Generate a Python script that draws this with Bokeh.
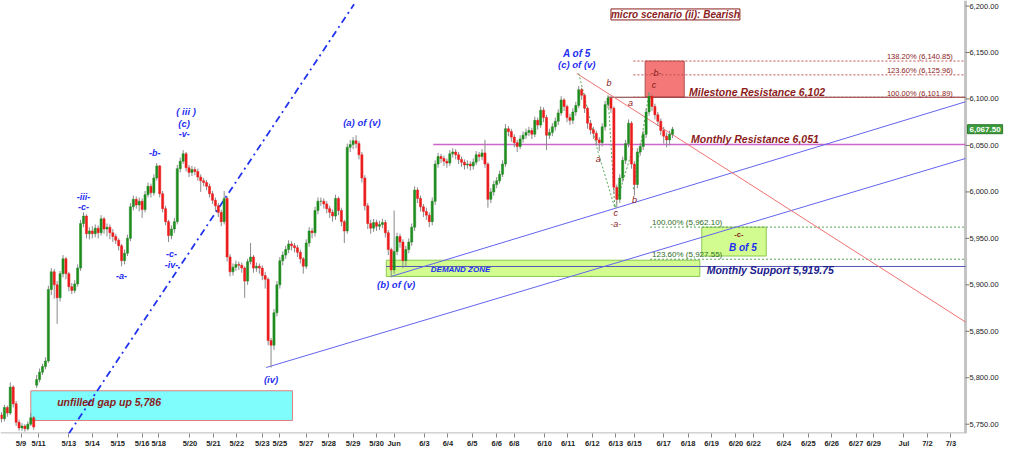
from bokeh.plotting import figure
from bokeh.models import Range1d, FixedTicker, Label, ColumnDataSource
from bokeh.core.properties import value
from bokeh.embed import file_html
from bokeh.resources import INLINE

# ---------------- data ----------------
X0 = 1
STEP = 3
opens = [5760, 5756, 5768, 5762, 5790, 5772, 5752, 5746, 5748, 5745, 5750, 5757, 5792, 5798, 5806, 5812,
         5818, 5895, 5914, 5900, 5886, 5912, 5928, 5912, 5898, 5894, 5901, 5918, 5966, 5974, 5955, 5958,
         5955, 5961, 5956, 5971, 5960, 5962, 5956, 5952, 5948, 5942, 5926, 5934, 5950, 5984, 5992, 5986,
         5990, 5981, 5997, 6006, 5999, 6015, 6028, 5998, 5982, 5968, 5953, 5960, 5968, 6025, 6033, 6041,
         6026, 6021, 6024, 6022, 6016, 6012, 6010, 6006, 5998, 5991, 5985, 5978, 5968, 5993, 5930, 5914,
         5919, 5922, 5921, 5918, 5904, 5925, 5930, 5918, 5920, 5918, 5910, 5906, 5840, 5835, 5870, 5900,
         5926, 5932, 5938, 5944, 5942, 5940, 5935, 5928, 5920, 5945, 5958, 5956, 5980, 5990, 5990, 5987,
         5982, 5978, 5974, 5993, 5980, 5968, 5958, 6048, 6051, 6055, 6052, 6040, 6015, 5985, 5966, 5961,
         5967, 5963, 5965, 5967, 5956, 5938, 5916, 5936, 5952, 5946, 5926, 5938, 5946, 5962, 6002, 5993,
         5984, 5979, 5975, 5968, 5990, 6030, 6038, 6036, 6033, 6031, 6041, 6043, 6040, 6035, 6032, 6029,
         6030, 6028, 6032, 6040, 6038, 6042, 6030, 5992, 6000, 6008, 6012, 6019, 6030, 6068, 6065, 6059,
         6053, 6049, 6057, 6061, 6064, 6066, 6062, 6077, 6072, 6088, 6080, 6061, 6064, 6070, 6076, 6085,
         6099, 6092, 6080, 6077, 6086, 6093, 6110, 6104, 6090, 6074, 6067, 6063, 6056, 6053, 6070, 6094,
         6101, 6090, 6005, 5992, 6015, 6034, 6052, 6074, 6030, 6008, 6043, 6049, 6062, 6086, 6103, 6092,
         6083, 6076, 6066, 6060, 6056, 6062]
closes = [5756, 5768, 5762, 5790, 5772, 5752, 5746, 5748, 5745, 5750, 5757, 5747, 5798, 5806, 5812, 5818,
          5895, 5914, 5900, 5886, 5912, 5928, 5912, 5898, 5894, 5901, 5918, 5966, 5974, 5955, 5958, 5955,
          5961, 5956, 5971, 5960, 5962, 5956, 5952, 5948, 5942, 5926, 5934, 5950, 5984, 5992, 5986, 5990,
          5981, 5997, 6006, 5999, 6015, 6028, 5998, 5982, 5968, 5953, 5960, 5968, 6025, 6033, 6041, 6026,
          6021, 6024, 6022, 6016, 6012, 6010, 6006, 5998, 5991, 5985, 5978, 5968, 5993, 5930, 5914, 5919,
          5922, 5921, 5918, 5904, 5925, 5930, 5918, 5920, 5918, 5910, 5906, 5840, 5835, 5870, 5900, 5926,
          5932, 5938, 5944, 5942, 5940, 5935, 5928, 5920, 5945, 5958, 5956, 5980, 5990, 5990, 5987, 5982,
          5978, 5974, 5993, 5980, 5968, 5958, 6048, 6051, 6055, 6052, 6040, 6015, 5985, 5966, 5961, 5967,
          5963, 5965, 5967, 5956, 5938, 5916, 5936, 5952, 5946, 5926, 5938, 5946, 5962, 6002, 5993, 5984,
          5979, 5975, 5968, 5990, 6030, 6038, 6036, 6033, 6031, 6041, 6043, 6040, 6035, 6032, 6029, 6030,
          6028, 6032, 6040, 6038, 6042, 6030, 5992, 6000, 6008, 6012, 6019, 6030, 6068, 6065, 6059, 6053,
          6049, 6057, 6061, 6064, 6066, 6062, 6077, 6072, 6088, 6080, 6061, 6064, 6070, 6076, 6085, 6099,
          6092, 6080, 6077, 6086, 6093, 6110, 6104, 6090, 6074, 6067, 6063, 6056, 6053, 6070, 6094, 6101,
          6090, 6005, 5992, 6015, 6034, 6052, 6074, 6030, 6008, 6043, 6049, 6062, 6086, 6103, 6092, 6083,
          6076, 6066, 6060, 6056, 6062, 6067.5]
highs = [5763, 5771, 5770, 5795, 5792, 5775, 5755, 5751, 5750, 5753, 5762, 5759, 5803, 5810, 5815, 5822,
         5899, 5918, 5917, 5904, 5915, 5932, 5930, 5914, 5902, 5905, 5922, 5970, 5978, 5976, 5962, 5963,
         5965, 5964, 5975, 5973, 5966, 5965, 5960, 5955, 5950, 5944, 5938, 5954, 5988, 5996, 5995, 5994,
         5993, 6001, 6010, 6009, 6019, 6031, 6029, 6001, 5985, 5970, 5964, 5972, 6029, 6037, 6045, 6043,
         6029, 6028, 6027, 6025, 6019, 6015, 6013, 6009, 6001, 5994, 5988, 5981, 6001, 5995, 5933, 5923,
         5926, 5925, 5924, 5920, 5928, 5945, 5932, 5924, 5923, 5921, 5914, 5908, 5843, 5874, 5904, 5930,
         5936, 5942, 5948, 5947, 5945, 5943, 5938, 5930, 5949, 5962, 5961, 5984, 5994, 5994, 5993, 5990,
         5985, 5981, 5997, 5995, 5983, 5970, 6052, 6056, 6059, 6061, 6055, 6043, 6018, 5988, 5970, 5971,
         5970, 5969, 5971, 5970, 5959, 5940, 5980, 5956, 5955, 5949, 5942, 5950, 5966, 6006, 6005, 5996,
         5987, 5983, 5978, 5994, 6034, 6042, 6041, 6039, 6036, 6045, 6047, 6046, 6043, 6038, 6035, 6034,
         6033, 6036, 6044, 6043, 6046, 6056, 6032, 6004, 6012, 6016, 6023, 6034, 6073, 6071, 6068, 6062,
         6056, 6061, 6065, 6068, 6070, 6069, 6081, 6080, 6092, 6091, 6083, 6068, 6074, 6080, 6089, 6103,
         6101, 6094, 6084, 6090, 6097, 6114, 6112, 6106, 6092, 6077, 6070, 6066, 6059, 6074, 6098, 6104,
         6103, 6092, 6008, 6019, 6038, 6056, 6078, 6076, 6033, 6047, 6053, 6066, 6090, 6107, 6105, 6095,
         6086, 6079, 6070, 6064, 6066, 6070]
lows = [5752, 5753, 5758, 5760, 5768, 5748, 5743, 5743, 5742, 5743, 5748, 5744, 5789, 5795, 5803, 5809,
        5816, 5889, 5885, 5858, 5882, 5908, 5906, 5893, 5890, 5891, 5898, 5915, 5962, 5950, 5949, 5950,
        5951, 5950, 5953, 5955, 5952, 5949, 5946, 5944, 5937, 5920, 5922, 5931, 5947, 5980, 5982, 5979,
        5972, 5978, 5994, 5994, 5996, 6012, 5994, 5978, 5964, 5946, 5949, 5956, 5965, 6021, 6030, 6022,
        6016, 6017, 6018, 6012, 6000, 6006, 6002, 5994, 5987, 5979, 5973, 5963, 5965, 5925, 5909, 5910,
        5915, 5916, 5913, 5886, 5900, 5922, 5913, 5914, 5912, 5905, 5896, 5835, 5811, 5830, 5866, 5896,
        5921, 5928, 5934, 5937, 5935, 5930, 5923, 5912, 5917, 5941, 5950, 5952, 5976, 5985, 5982, 5977,
        5972, 5968, 5970, 5975, 5963, 5945, 5955, 6043, 6046, 6047, 6035, 6010, 5980, 5960, 5955, 5957,
        5958, 5959, 5961, 5951, 5932, 5908, 5912, 5932, 5940, 5918, 5920, 5934, 5942, 5958, 5988, 5979,
        5973, 5970, 5962, 5964, 5986, 6026, 6031, 6028, 6026, 6028, 6037, 6035, 6030, 6027, 6024, 6025,
        6023, 6024, 6029, 6033, 6034, 6026, 5983, 5988, 5996, 6004, 6009, 6016, 6027, 6060, 6054, 6048,
        6043, 6046, 6053, 6057, 6060, 6057, 6059, 6067, 6069, 6075, 6045, 6057, 6060, 6066, 6072, 6082,
        6087, 6075, 6072, 6073, 6082, 6090, 6099, 6085, 6068, 6062, 6057, 6050, 6044, 6049, 6066, 6090,
        6085, 5998, 5983, 5988, 6011, 6030, 6048, 6025, 5996, 6004, 6039, 6045, 6058, 6082, 6087, 6078,
        6071, 6061, 6052, 6048, 6050, 6058]

tick_pos = [21, 39, 70, 94, 120, 145, 162, 194, 218, 242, 268, 286, 313, 336, 361, 385, 403, 434, 458,
            483, 508, 526, 557, 581, 606, 630, 649, 679, 704, 728, 753, 771, 802, 827, 851, 876, 894,
            925, 949, 973]
tick_labels = ["5/9", "5/11", "5/13", "5/14", "5/15", "5/16", "5/18", "5/20", "5/21", "5/22", "5/23",
               "5/25", "5/27", "5/28", "5/29", "5/30", "Jun", "6/3", "6/4", "6/5", "6/6", "6/8", "6/10",
               "6/11", "6/12", "6/13", "6/15", "6/17", "6/18", "6/19", "6/20", "6/22", "6/24", "6/25",
               "6/26", "6/27", "6/29", "Jul", "7/2", "7/3"]
price_ticks = [5750, 5800, 5850, 5900, 5950, 6000, 6050, 6100, 6150, 6200]

last_price = 6067.50
gap_level = 5786
gap_bottom = 5754
milestone = 6101.89
fib_red = [6101.89, 6125.96, 6140.85]
fib_red_labels = ["100.00% (6,101.89)", "123.60% (6,125.96)", "138.20% (6,140.85)"]
monthly_res = 6051
monthly_sup = 5919.75
fib_green = [5962.10, 5927.55]
fib_green_labels = ["100.00% (5,962.10)", "123.60% (5,927.55)"]
demand_top, demand_bottom = 5926.5, 5909
bof5_top, bof5_bottom = 5962.10, 5931
# trend lines: (x0, p0, x1, p1)
dashed_trend = (70, 5740, 362, 6202)
channel_low = (272, 5811, 988, 6036)
channel_high = (400, 5909, 988, 6097)
red_trend = (590, 6127.5, 988, 5860)
zig_x = [592, 612, 629, 648]
zig_p = [6127.5, 6042, 5982.6, 6049]
zig2_x = [622, 629]
zig2_p = [6103, 5982.6]
zig3_x = [648, 664]
zig3_p = [6003, 6107]

# ---------------- figure ----------------
FONT = "Liberation Sans"
DARKRED = "#8b1c1c"
BLUE = "#1f2ff0"
AXIS_X = 988          # price scale sits at the right edge of the plotting area
Y0, Y1 = 5740, 6206

p = figure(width=1008, height=450, x_range=Range1d(0, 1032), y_range=Range1d(Y0, Y1),
           y_axis_location=None, toolbar_location=None, output_backend="svg",
           min_border_left=0, min_border_top=0, min_border_bottom=0, min_border_right=0)
p.outline_line_color = None
p.grid.visible = False
p.background_fill_color = "white"

xa = p.xaxis[0]
xa.ticker = FixedTicker(ticks=tick_pos)
xa.major_label_overrides = {t: l for t, l in zip(tick_pos, tick_labels)}
xa.major_label_text_font = FONT
xa.major_label_text_font_size = "7.5px"
xa.major_label_text_font_style = "bold"
xa.major_label_text_color = "#222222"
xa.axis_line_color = None
xa.major_tick_line_color = "#888888"
xa.major_tick_in = 0
xa.major_tick_out = 4
xa.minor_tick_line_color = None
xa.major_label_standoff = 1

# price scale drawn at the right edge
p.line([0, AXIS_X], [Y0 + 0.5, Y0 + 0.5], line_color="#a0a0a0", line_width=1)
p.line([AXIS_X, AXIS_X], [Y0, Y1], line_color="#c4c4c4", line_width=3)
p.segment(x0=[AXIS_X] * len(price_ticks), y0=price_ticks, x1=[AXIS_X + 4] * len(price_ticks),
          y1=price_ticks, line_color="#777777", line_width=1)
p.text(x=[AXIS_X + 4] * len(price_ticks), y=price_ticks, text=[f"{t:,.2f}" for t in price_ticks],
       text_font=value(FONT), text_font_size="7.5px", text_color="#222222",
       text_align="left", text_baseline="middle")

# ---------------- zones ----------------
p.quad(left=[31], right=[299], bottom=[gap_bottom], top=[gap_level],
       fill_color="#7ffcfc", line_color="#e08080", line_width=1)
p.quad(left=[395], right=[716], bottom=[demand_bottom], top=[demand_top],
       fill_color="#d2fc90", line_color="#8cc850", line_width=1)
p.quad(left=[718], right=[784], bottom=[bof5_bottom], top=[bof5_top],
       fill_color="#d2fc90", line_color="#8cc850", line_width=1)
p.quad(left=[660], right=[700], bottom=[fib_red[0]], top=[fib_red[2]],
       fill_color="#f47878", line_color="#b05050", line_width=1)

# horizontal levels
p.line([622, AXIS_X], [milestone, milestone], line_color="#7a3030", line_width=1)
for lv in fib_red:
    p.line([648, AXIS_X], [lv, lv], line_color="#c05050", line_width=1, line_dash="2 2")
for lv in fib_green:
    p.line([665, AXIS_X], [lv, lv], line_color="#5aa55a", line_width=1, line_dash="2 2")
p.line([443, AXIS_X], [monthly_res, monthly_res], line_color="#cc66cc", line_width=1.3)
p.line([395, AXIS_X], [monthly_sup, monthly_sup], line_color="#5555bb", line_width=1)

# trend lines
p.line([dashed_trend[0], dashed_trend[2]], [dashed_trend[1], dashed_trend[3]],
       line_color="#2233ee", line_width=1.8, line_dash="7 4 2 4")
for ln in (channel_low, channel_high):
    p.line([ln[0], ln[2]], [ln[1], ln[3]], line_color="#6464ee", line_width=1)
p.line([red_trend[0], red_trend[2]], [red_trend[1], red_trend[3]], line_color="#f07272", line_width=1)
for zx, zp in ((zig_x, zig_p), (zig2_x, zig2_p), (zig3_x, zig3_p)):
    p.line(zx, zp, line_color="#55aa55", line_width=1, line_dash="2 2")

# ---------------- candles ----------------
xs = [X0 + STEP * i for i in range(len(closes))]
cols = ["#1f8c1f" if c >= o else "#ec1c1c" for o, c in zip(opens, closes)]
src = ColumnDataSource(dict(x=xs, o=opens, c=closes, h=highs, l=lows,
                            top=[max(o, c) for o, c in zip(opens, closes)],
                            bot=[min(o, c) for o, c in zip(opens, closes)], col=cols))
p.segment(x0="x", y0="l", x1="x", y1="h", source=src, line_color="#8a8a8a", line_width=1)
p.vbar(x="x", width=2.2, top="top", bottom="bot", source=src, fill_color="col", line_color="col",
       line_width=0.5)


# ---------------- labels ----------------
def lab(x, y, text, color, size, style="bold italic", align="center", **kw):
    p.add_layout(Label(x=x, y=y, text=text, text_color=color, text_font=FONT,
                       text_font_size=size, text_font_style=style, text_align=align,
                       text_baseline="middle", **kw))


lab(691, 6191, "micro scenario (ii): Bearish", DARKRED, "10px",
    border_line_color=DARKRED, border_line_width=1, background_fill_color="white")

lab(85, 5995, "-iii-", BLUE, "9px")
lab(85, 5984, "-c-", BLUE, "9px")
lab(124, 5910, "-a-", BLUE, "9px")
lab(158, 6042, "-b-", BLUE, "9px")
lab(190, 6087, "( iii )", BLUE, "9.5px")
lab(188, 6073.4, "(c)", BLUE, "9.5px")
lab(188, 6062, "-v-", BLUE, "9px")
lab(175, 5933.6, "-c-", BLUE, "9px")
lab(175, 5921.4, "-iv-", BLUE, "9px")
lab(277, 5798, "(iv)", BLUE, "9.5px")
lab(370, 6074.4, "(a) of (v)", BLUE, "9.5px")
lab(405, 5900, "(b) of (v)", BLUE, "9.5px")
lab(590, 6149, "A of 5", BLUE, "10px")
lab(590, 6136.7, "(c) of (v)", BLUE, "9.5px")
lab(471, 5916.3, "DEMAND ZONE", BLUE, "8px")
lab(760, 5940, "B of 5", BLUE, "10px")
lab(756, 5954, "-c-", DARKRED, "7.5px", style="bold")

lab(623, 6117, "b", DARKRED, "9px", style="italic")
lab(645, 6096, "a", DARKRED, "9px", style="italic")
lab(612, 6035.7, "a", DARKRED, "9px", style="italic")
lab(630, 5977.5, "c", DARKRED, "9px", style="italic")
lab(630, 5965, "-a-", DARKRED, "9px", style="italic")
lab(649, 5991, "b", DARKRED, "9px", style="italic")
lab(671, 6127.5, "-b-", DARKRED, "9px", style="italic")
lab(669, 6115, "c", DARKRED, "9px", style="italic")

lab(705, 6108, "Milestone Resistance 6,102", DARKRED, "10.5px", align="left")
lab(707, 6057, "Monthly Resistance 6,051", DARKRED, "10.5px", align="left")
lab(723, 5916, "Monthly Support 5,919.75", "#1c1c8c", "10.5px", align="left")
lab(58, 5773.4, "unfilled gap up 5,786", DARKRED, "10.5px", align="left")

for lv, t in zip(fib_red, fib_red_labels):
    lab(975, lv + 4.5, t, DARKRED, "7.5px", style="normal", align="right")
for lv, t in zip(fib_green, fib_green_labels):
    lab(667, lv + 5, t, "#2e6e1e", "8px", style="normal", align="left")

# last price tag on the price scale
p.add_layout(Label(x=AXIS_X + 2, y=last_price, text=f"{last_price:,.2f}", text_color="white",
                   text_font=FONT, text_font_size="8px", text_font_style="bold", text_align="left",
                   text_baseline="middle", background_fill_color="#3d9a3d", padding=2,
                   border_line_color="#2d7a2d", level="overlay"))

open("out.html", "w").write(file_html(p, INLINE))
